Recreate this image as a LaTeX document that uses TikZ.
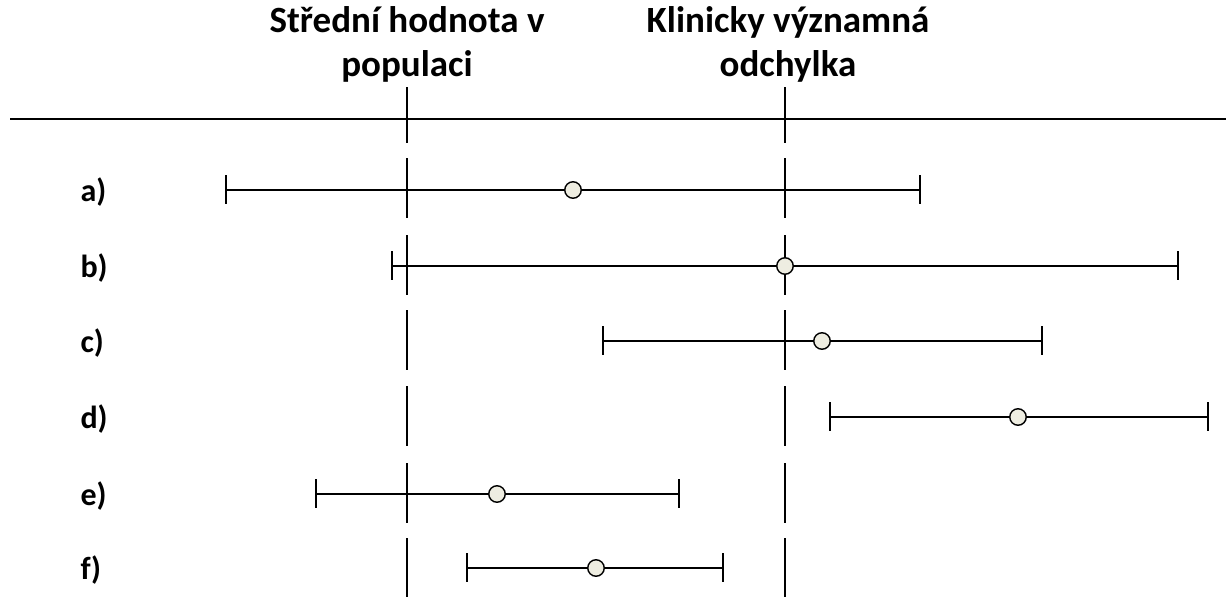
\documentclass[tikz,border=0pt]{standalone}
\usepackage{fontspec}
\setmainfont{Carlito}
\begin{document}
\begin{tikzpicture}[x=1pt,y=-1pt,
  rule/.style={line width=1.8pt},
  bar/.style={line width=1.7pt},
  refline/.style={line width=1.7pt},
  mean/.style={circle,draw,line width=1.4pt,fill=meanfill,minimum size=16.5pt,inner sep=0pt},
  title/.style={font=\fontsize{37}{44}\selectfont\bfseries,align=center,anchor=base},
  lab/.style={font=\fontsize{32}{38}\selectfont\bfseries,anchor=base west}]
\definecolor{meanfill}{HTML}{EEEDE1}
\useasboundingbox (0,0) rectangle (1226,597);
% titles
\node[title] (t1) at (407,76) {Střední hodnota v\\populaci};
\node[title] (t2) at (788,76) {Klinicky významná\\odchylka};
% horizontal rule
\coordinate (hl) at (10,119);
\coordinate (hr) at (1226,119);
\draw[rule] (hl) -- (hr);
% reference lines (segments)
\foreach \xx/\nm in {407/p,785/k}{
  \coordinate (\nm0a) at (\xx,87); \coordinate (\nm0b) at (\xx,143);
  \draw[refline] (\nm0a) -- (\nm0b);
  \foreach \yy [count=\i] in {188,265,340,416,493,568}{
    \coordinate (\nm\i a) at (\xx,\yy-30);
    \coordinate (\nm\i b) at (\xx,{min(\yy+30,597)});
    \draw[refline] (\nm\i a) -- (\nm\i b);
  }
}
% error bars
\foreach \nm/\yy/\lo/\mid/\hi in {a/190/226/573/920, b/266/392/785/1178, c/341/603/822/1042, d/417/830/1018/1208, e/494/316/497/679, f/568/467/596/723}{
  \node[lab] (l\nm) at (77,\yy+11) {\nm)};
  \coordinate (\nm L) at (\lo,\yy);
  \coordinate (\nm R) at (\hi,\yy);
  \coordinate (\nm Lt) at (\lo,\yy-15); \coordinate (\nm Lb) at (\lo,\yy+14);
  \coordinate (\nm Rt) at (\hi,\yy-15); \coordinate (\nm Rb) at (\hi,\yy+14);
  \draw[bar] (\nm L) -- (\nm R);
  \draw[bar] (\nm Lt) -- (\nm Lb);
  \draw[bar] (\nm Rt) -- (\nm Rb);
  \node[mean] (m\nm) at (\mid,\yy) {};
}
\end{tikzpicture}
\end{document}
